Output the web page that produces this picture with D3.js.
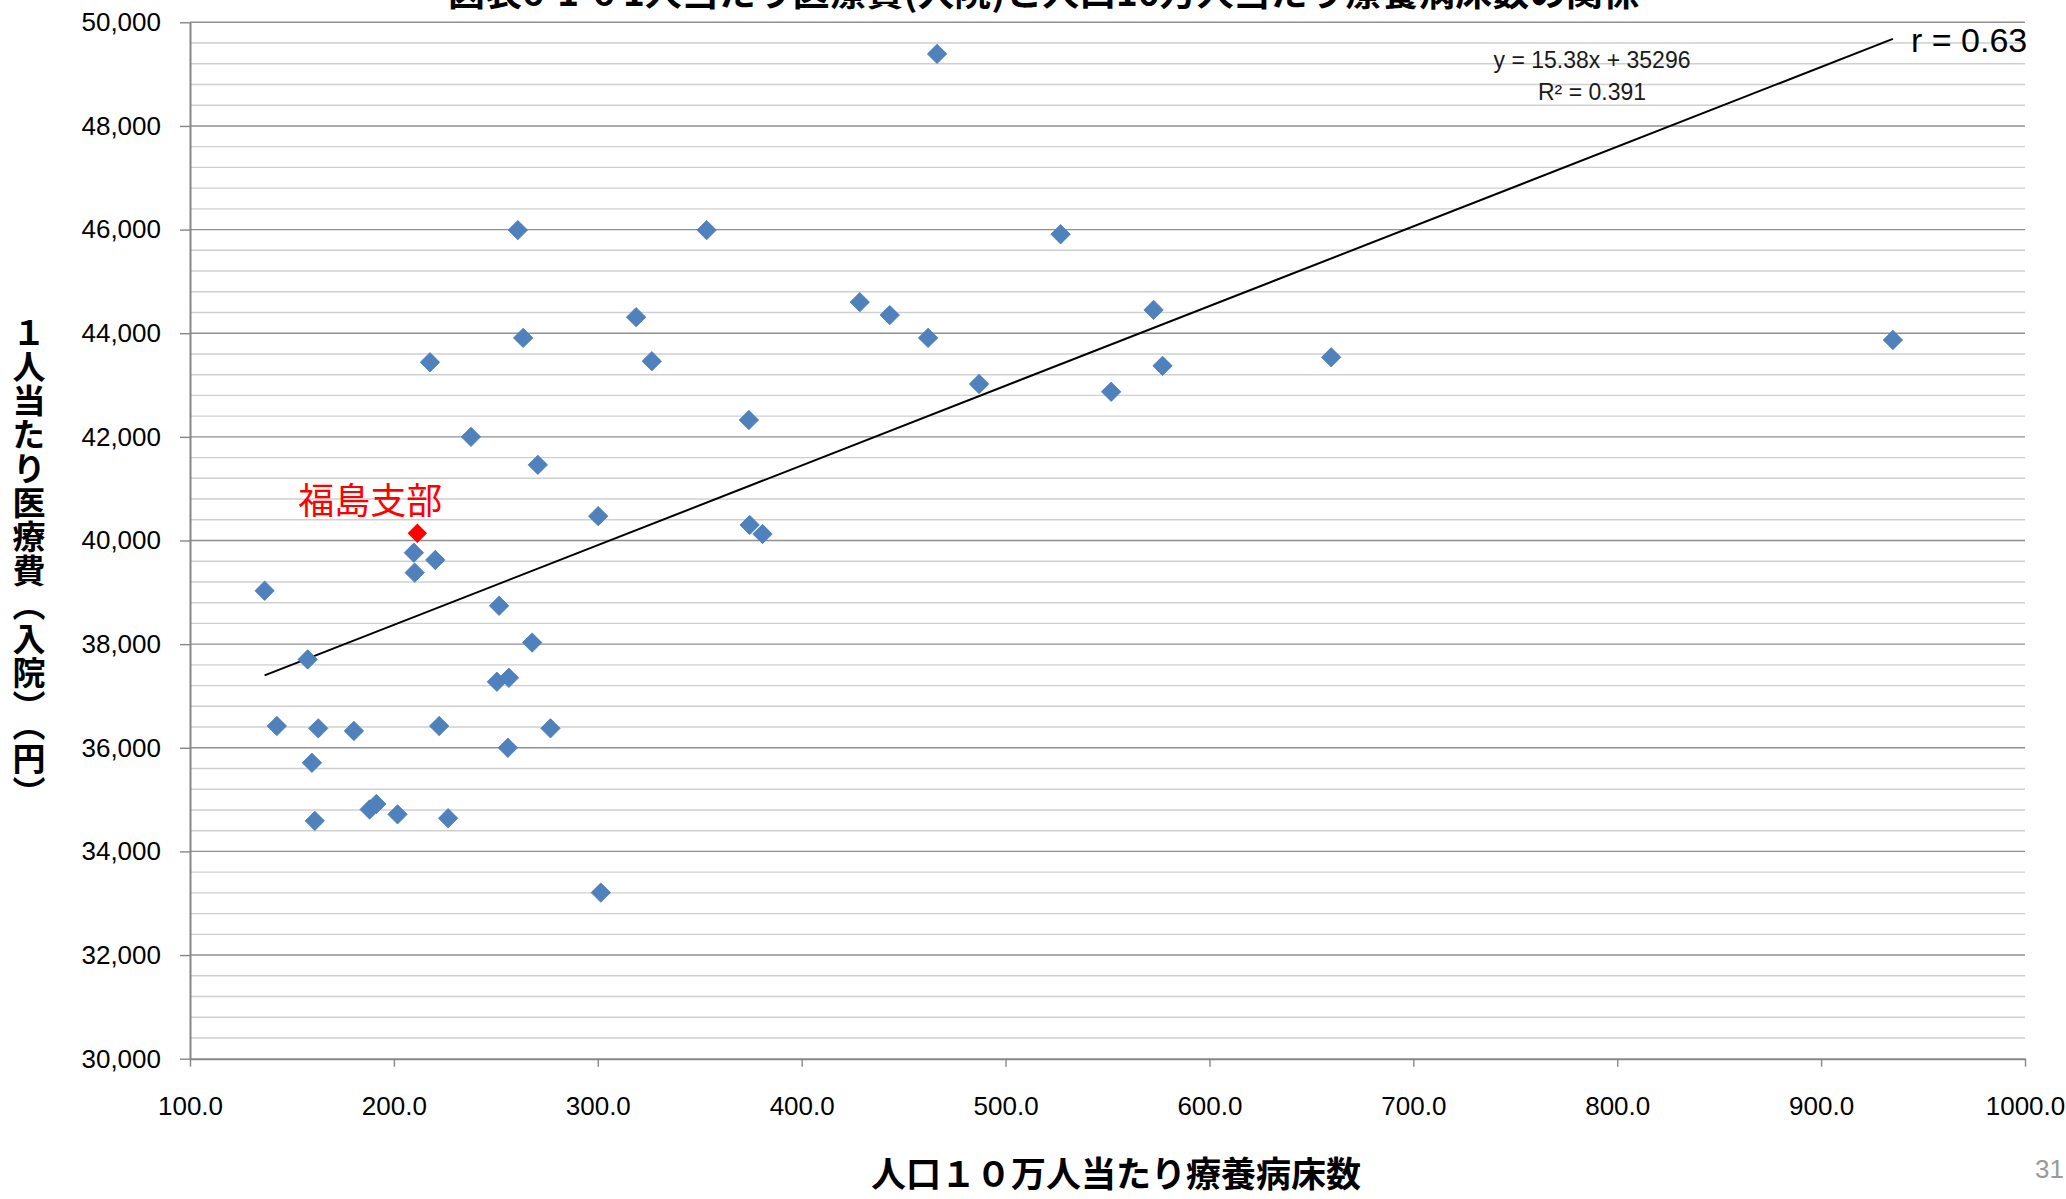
<!DOCTYPE html>
<html>
<head>
<meta charset="utf-8">
<script src="https://cdn.jsdelivr.net/npm/d3@7"></script>
<style>
  body { margin: 0; background: #fff; }
  svg { display: block; }
  .tick text { font-family: "Liberation Sans", Arial, sans-serif; fill: #000; }
</style>
</head>
<body>
<svg id="chart" width="2066" height="1199"></svg>
<script>
// 人口10万人当たり療養病床数 (x) / 1人当たり医療費(入院) (y)
const beds = [
  466.4, 260.8, 353.4, 527.0, 428.5, 318.8, 443.2, 572.6, 263.4, 462.0,
  935.2, 217.7, 326.5, 659.7, 577.0, 487.0, 551.8, 374.1, 237.8, 270.6,
  300.2, 374.5, 380.8, 209.8, 220.3, 210.2, 136.6, 251.6, 267.8, 157.7,
  250.5, 256.4, 142.6, 162.9, 180.4, 222.2, 276.8, 255.9, 159.8, 161.2,
  188.1, 191.4, 201.8, 226.6, 301.5
];
const cost = [
  49390, 45990, 45990, 45910, 44600, 44310, 44350, 44450, 43910, 43910,
  43870, 43440, 43460, 43535, 43370, 43020, 42870, 42325, 42000, 41460,
  40470, 40300, 40125, 39765, 39625, 39380, 39030, 38740, 38030, 37705,
  37275, 37350, 36420, 36375, 36325, 36420, 36375, 36000, 35710, 34590,
  34810, 34915, 34715, 34640, 33205
];
// 福島支部
const fukushimaBeds = 211.5;
const fukushimaCost = 40140;

const xTicks = [100, 200, 300, 400, 500, 600, 700, 800, 900, 1000];
const yTicks = [30000, 32000, 34000, 36000, 38000, 40000, 42000, 44000, 46000, 48000, 50000];

// trend line as printed on the chart
const trendSlope = 15.38;
const trendIntercept = 35296;

const svg = d3.select("#chart");

const x = d3.scaleLinear().domain([100, 1000]).range([190, 2025]);
const y = d3.scaleLinear().domain([30000, 50000]).range([1058.7, 22.3]);

svg.append("rect").attr("width", 2066).attr("height", 1199).attr("fill", "#fff");

// gridlines: minor every 400, major every 2000
const minor = d3.range(30400, 50000, 400).filter((v) => v % 2000 !== 0);
svg.append("g")
  .selectAll("line")
  .data(minor)
  .join("line")
  .attr("x1", x(100))
  .attr("x2", x(1000))
  .attr("y1", (d) => y(d))
  .attr("y2", (d) => y(d))
  .attr("stroke", "#cfcfcf")
  .attr("stroke-width", 1.4);

svg.append("g")
  .selectAll("line")
  .data(yTicks.filter((d) => d > 30000))
  .join("line")
  .attr("x1", x(100))
  .attr("x2", x(1000))
  .attr("y1", (d) => y(d))
  .attr("y2", (d) => y(d))
  .attr("stroke", "#8f8f8f")
  .attr("stroke-width", 1.4);

// axes
const yAxis = svg.append("g")
  .attr("transform", `translate(${x(100)},0)`)
  .call(
    d3.axisLeft(y)
      .tickValues(yTicks)
      .tickSize(10)
      .tickSizeOuter(0)
      .tickPadding(19)
      .tickFormat(d3.format(","))
  );

const xAxis = svg.append("g")
  .attr("transform", `translate(0,${y(30000)})`)
  .call(
    d3.axisBottom(x)
      .tickValues(xTicks)
      .tickSize(8)
      .tickSizeOuter(0)
      .tickPadding(30)
      .tickFormat(d3.format(".1f"))
  );

[yAxis, xAxis].forEach((g) => {
  g.select(".domain").attr("stroke", "#868686").attr("stroke-width", 2);
  g.selectAll(".tick line").attr("stroke", "#868686").attr("stroke-width", 1.4);
  g.selectAll(".tick text").attr("font-size", 26);
});

// trend line
const [minX, maxX] = d3.extent(beds.concat([fukushimaBeds]));
svg.append("line")
  .attr("x1", x(minX))
  .attr("y1", y(trendSlope * minX + trendIntercept))
  .attr("x2", x(maxX))
  .attr("y2", y(trendSlope * maxX + trendIntercept))
  .attr("stroke", "#000")
  .attr("stroke-width", 2);

// markers
const diamond = "M0,-9.7L9.7,0L0,9.7L-9.7,0Z";
svg.append("g")
  .selectAll("path")
  .data(beds.map((b, i) => [b, cost[i]]))
  .join("path")
  .attr("d", diamond)
  .attr("transform", (d) => `translate(${x(d[0])},${y(d[1])})`)
  .attr("fill", "#4f81bd")
  .attr("stroke", "#4a7ab5")
  .attr("stroke-width", 0.8);

svg.append("path")
  .attr("d", diamond)
  .attr("transform", `translate(${x(fukushimaBeds)},${y(fukushimaCost)})`)
  .attr("fill", "#ff0000");

svg.append("text")
  .attr("x", x(fukushimaBeds) - 47)
  .attr("y", y(fukushimaCost) - 19)
  .attr("text-anchor", "middle")
  .attr("font-family", "'Noto Sans CJK JP', sans-serif")
  .attr("font-size", 36)
  .attr("fill", "#ff0000")
  .text("福島支部");

// regression labels
const eq = svg.append("text")
  .attr("text-anchor", "middle")
  .attr("font-family", "'Liberation Sans', Arial, sans-serif")
  .attr("font-size", 23)
  .attr("fill", "#1a1a1a");
eq.append("tspan").attr("x", 1592).attr("y", 68).text("y = 15.38x + 35296");
eq.append("tspan").attr("x", 1592).attr("y", 100).text("R² = 0.391");

svg.append("text")
  .attr("x", 1911)
  .attr("y", 52)
  .attr("font-family", "'Liberation Sans', Arial, sans-serif")
  .attr("font-size", 34)
  .attr("fill", "#000")
  .text("r = 0.63");

// title (cut at the top of the slide, as in the source)
svg.append("text")
  .attr("x", 1044)
  .attr("y", 6)
  .attr("text-anchor", "middle")
  .attr("font-family", "'Noto Sans CJK JP', sans-serif")
  .attr("font-weight", "bold")
  .attr("font-size", 35)
  .attr("textLength", 1192)
  .attr("lengthAdjust", "spacingAndGlyphs")
  .text("図表6-1-6 1人当たり医療費(入院)と人口10万人当たり療養病床数の関係");

// axis titles
svg.append("text")
  .attr("x", 1116)
  .attr("y", 1187)
  .attr("text-anchor", "middle")
  .attr("font-family", "'Noto Sans CJK JP', sans-serif")
  .attr("font-weight", "bold")
  .attr("font-size", 35)
  .text("人口１０万人当たり療養病床数");

svg.append("text")
  .attr("x", 29)
  .attr("y", 316)
  .style("writing-mode", "vertical-rl")
  .attr("font-family", "'Noto Sans CJK JP', sans-serif")
  .attr("font-weight", "bold")
  .attr("font-size", 33)
  .attr("letter-spacing", 1)
  .text("１人当たり医療費（入院）（円）");

// page number
svg.append("text")
  .attr("x", 2064)
  .attr("y", 1178)
  .attr("text-anchor", "end")
  .attr("font-family", "'Liberation Sans', Arial, sans-serif")
  .attr("font-size", 26)
  .attr("fill", "#9a9a9a")
  .text("31");
</script>
</body>
</html>
